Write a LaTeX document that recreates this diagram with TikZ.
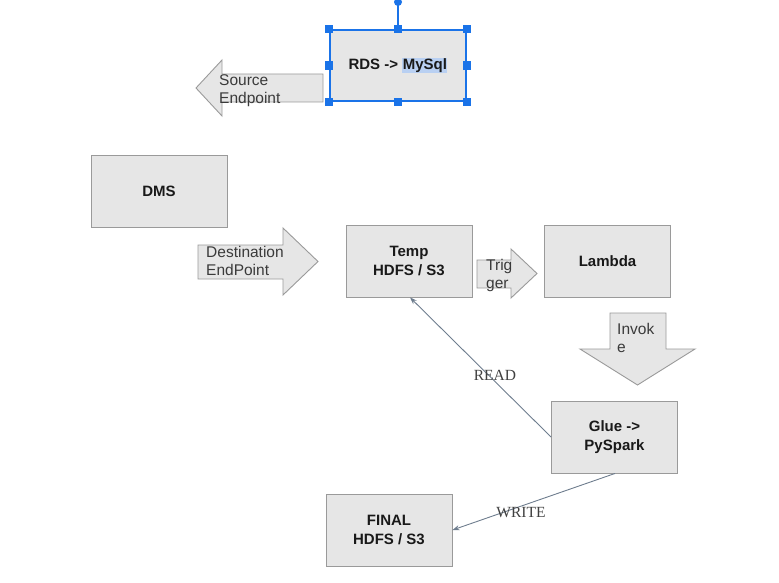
\documentclass[tikz,border=0pt]{standalone}
\usepackage{fontspec}
\setmainfont{Liberation Sans}
\newfontfamily\serifl{Liberation Serif}
\usetikzlibrary{arrows.meta}
\definecolor{boxfill}{HTML}{E6E6E6}
\definecolor{boxline}{HTML}{9A9A9A}
\definecolor{selblue}{HTML}{1A73E8}
\definecolor{hilite}{HTML}{B9D0F2}
\definecolor{linkcol}{HTML}{6E7D8E}
\definecolor{txtgray}{HTML}{3A3A3A}
\tikzset{
  box/.style={draw=boxline, fill=boxfill, line width=0.9pt, minimum width=126pt, minimum height=72pt, align=center, font=\fontsize{15}{19}\selectfont\bfseries, text=black!90},
  blockarrow/.style={draw=boxline, fill=boxfill, line width=0.9pt},
  arrtext/.style={align=left, font=\fontsize{15.5}{18}\selectfont, text=txtgray, inner sep=0pt, anchor=north west},
  link/.style={draw=linkcol, line width=0.9pt, -{Stealth[length=7pt,width=5pt]}},
  linklabel/.style={font=\serifl\fontsize{15.5}{17}\selectfont, text=black!75, inner sep=0.5pt},
  handle/.style={fill=selblue, draw=none, minimum size=8.5pt, inner sep=0pt},
}
\begin{document}
\begin{tikzpicture}[x=1pt,y=-1pt]
\useasboundingbox (0,0) rectangle (779,583);
% boxes
\node[box, minimum width=136pt, minimum height=71pt, draw=selblue, line width=1.6pt] (rds) at (398,65.5) {RDS -> {\fboxsep=0.5pt\colorbox{hilite}{MySql}}};
\node[box, minimum width=136pt] (dms) at (159,191) {DMS};
\node[box] (temp) at (409,261) {Temp\\HDFS / S3};
\node[box] (lambda) at (607.5,261) {Lambda};
\node[box] (glue) at (614.5,437) {Glue ->\\PySpark};
\node[box] (final) at (389,530) {FINAL\\HDFS / S3};
% selection handles
\coordinate (rot) at (398,2);
\draw[selblue, line width=1.4pt] (rds.north) -- (rot);
\node[circle, fill=selblue, minimum size=8pt, inner sep=0pt] (roth) at (rot) {};
\foreach \a [count=\i] in {north west,north,north east,east,south east,south,south west,west}
  \node[handle] (h\i) at (rds.\a) {};
% Source Endpoint arrow (left)
\draw[blockarrow] (323,74) -- (222,74) -- (222,60) -- (196,88) -- (222,116) -- (222,102) -- (323,102) -- cycle;
\node[arrtext] (srctxt) at (219,74) {Source\\Endpoint};
% Destination EndPoint arrow (right)
\draw[blockarrow] (198,245) -- (283,245) -- (283,228) -- (318,261.5) -- (283,295) -- (283,279) -- (198,279) -- cycle;
\node[arrtext] (dsttxt) at (206,246) {Destination\\EndPoint};
% Trigger arrow
\draw[blockarrow] (477,260) -- (511,260) -- (511,249) -- (537,273.5) -- (511,298) -- (511,288) -- (477,288) -- cycle;
\node[arrtext] (trigtxt) at (486,259) {Trig\\ger};
% Invoke arrow (down)
\draw[blockarrow] (610,313) -- (666,313) -- (666,349) -- (695,349) -- (637.5,385) -- (580,349) -- (610,349) -- cycle;
\node[arrtext] (invtxt) at (617,323.5) {Invok\\e};
% connectors
\draw[link] (glue.west) -- ([xshift=1pt]temp.south);
\node[linklabel] (readlbl) at (495,375) {READ};
\draw[link] ([xshift=0.5pt]glue.south) -- (final.east);
\node[linklabel] (writelbl) at (521,513) {WRITE};
\end{tikzpicture}
\end{document}
